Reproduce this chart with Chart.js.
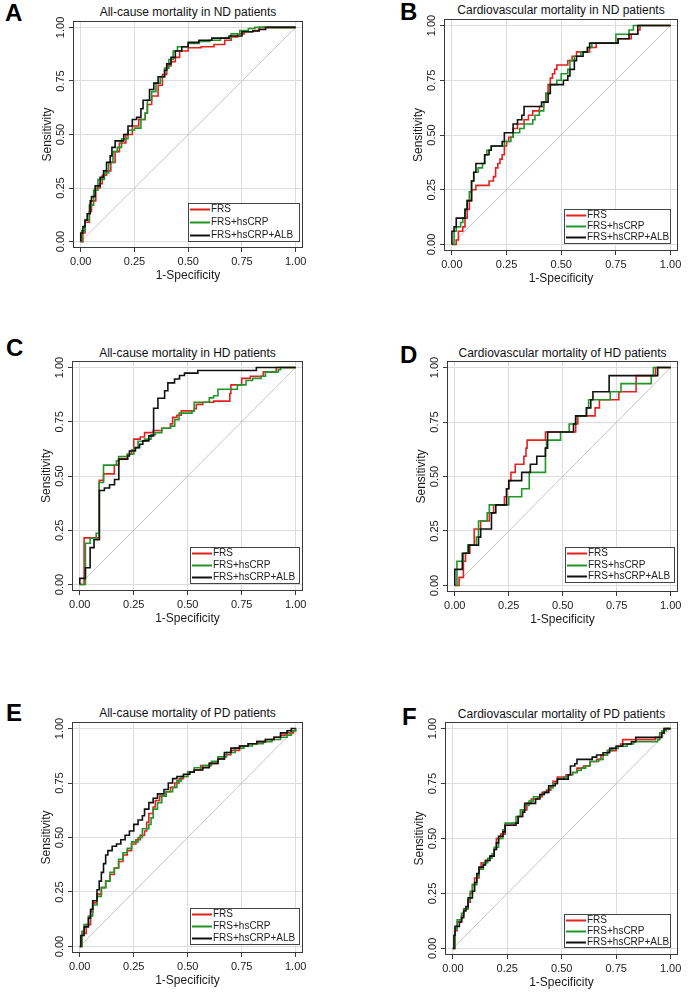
<!DOCTYPE html>
<html>
<head>
<meta charset="utf-8">
<script src="https://cdn.jsdelivr.net/npm/chart.js@4.4.1/dist/chart.umd.min.js"></script>
<style>
  html, body { margin: 0; padding: 0; background: #fff; }
  body { position: relative; width: 691px; height: 992px; overflow: hidden; font-family: "Liberation Sans", Arial, sans-serif; }
  canvas { position: absolute; }
  .title { position: absolute; font-size: 12px; line-height: 14px; color: #111; white-space: nowrap; transform: translateX(-50%); }
  .letter { position: absolute; font-size: 24px; line-height: 24px; font-weight: bold; color: #000; }
</style>
</head>
<body>
<script>
  // axis ticks shared by every panel
  const TICK_VALUES = [0, 0.25, 0.5, 0.75, 1];
  const TICK_LABELS = ['0.00', '0.25', '0.50', '0.75', '1.00'];
  const SERIES_NAMES = ['FRS', 'FRS+hsCRP', 'FRS+hsCRP+ALB'];
  const DIAGONAL = [[0, 0], [1, 1]];

  // ROC curves, [1-specificity, sensitivity]
  const A_FRS = [[0,0],[0.01,0.04],[0.02,0.09],[0.04,0.14],[0.05,0.19],[0.07,0.25],[0.09,0.27],[0.10,0.31],[0.12,0.33],[0.14,0.37],[0.16,0.42],[0.18,0.46],[0.21,0.50],[0.24,0.54],[0.27,0.57],[0.30,0.60],[0.31,0.64],[0.33,0.68],[0.36,0.73],[0.38,0.78],[0.40,0.82],[0.42,0.84],[0.44,0.86],[0.46,0.89],[0.50,0.905],[0.56,0.91],[0.62,0.92],[0.67,0.94],[0.70,0.955],[0.73,0.97],[0.76,0.98],[0.80,0.985],[0.83,1],[1,1]];
  const A_CRP = [[0,0],[0.005,0.05],[0.02,0.10],[0.04,0.17],[0.06,0.24],[0.08,0.29],[0.11,0.32],[0.13,0.37],[0.15,0.42],[0.17,0.44],[0.19,0.48],[0.22,0.52],[0.25,0.53],[0.28,0.57],[0.30,0.60],[0.31,0.66],[0.33,0.70],[0.35,0.74],[0.37,0.77],[0.39,0.81],[0.41,0.85],[0.43,0.89],[0.45,0.91],[0.50,0.925],[0.55,0.935],[0.60,0.94],[0.65,0.95],[0.70,0.97],[0.74,0.985],[0.78,0.995],[0.81,1],[1,1]];
  const A_ALB = [[0,0],[0,0.04],[0.01,0.07],[0.02,0.10],[0.03,0.13],[0.044,0.19],[0.05,0.21],[0.067,0.26],[0.09,0.30],[0.106,0.33],[0.12,0.37],[0.137,0.40],[0.145,0.44],[0.16,0.47],[0.20,0.50],[0.22,0.54],[0.24,0.57],[0.26,0.58],[0.28,0.62],[0.29,0.66],[0.32,0.71],[0.34,0.74],[0.36,0.77],[0.39,0.80],[0.40,0.83],[0.42,0.86],[0.44,0.89],[0.47,0.91],[0.50,0.93],[0.55,0.94],[0.61,0.95],[0.69,0.96],[0.75,0.98],[0.80,0.983],[0.83,0.99],[0.86,1],[1,1]];

  const B_FRS = [[0,0],[0.02,0.02],[0.03,0.06],[0.05,0.08],[0.06,0.12],[0.07,0.16],[0.08,0.20],[0.09,0.25],[0.11,0.27],[0.17,0.29],[0.19,0.31],[0.20,0.35],[0.21,0.37],[0.22,0.39],[0.23,0.41],[0.24,0.45],[0.25,0.47],[0.26,0.49],[0.28,0.53],[0.30,0.55],[0.33,0.57],[0.35,0.59],[0.37,0.61],[0.40,0.63],[0.42,0.65],[0.43,0.69],[0.44,0.73],[0.45,0.76],[0.46,0.78],[0.47,0.80],[0.48,0.82],[0.52,0.82],[0.53,0.84],[0.55,0.86],[0.57,0.88],[0.62,0.88],[0.63,0.90],[0.66,0.92],[0.75,0.92],[0.76,0.94],[0.82,0.96],[0.85,0.98],[0.86,1],[1,1]];
  const B_CRP = [[0,0],[0.01,0.06],[0.02,0.08],[0.04,0.10],[0.05,0.12],[0.06,0.16],[0.07,0.20],[0.08,0.24],[0.09,0.29],[0.10,0.33],[0.12,0.35],[0.14,0.37],[0.15,0.41],[0.16,0.43],[0.18,0.45],[0.22,0.45],[0.24,0.47],[0.27,0.49],[0.28,0.51],[0.31,0.53],[0.33,0.55],[0.37,0.57],[0.38,0.59],[0.40,0.61],[0.42,0.65],[0.43,0.69],[0.45,0.73],[0.48,0.75],[0.50,0.78],[0.53,0.80],[0.54,0.84],[0.56,0.86],[0.59,0.88],[0.62,0.90],[0.64,0.92],[0.73,0.92],[0.75,0.96],[0.80,0.96],[0.81,0.98],[0.83,1],[1,1]];
  const B_ALB = [[0,0],[0,0.06],[0.01,0.08],[0.02,0.12],[0.05,0.12],[0.06,0.16],[0.07,0.20],[0.09,0.24],[0.09,0.29],[0.10,0.33],[0.11,0.37],[0.14,0.37],[0.15,0.41],[0.17,0.43],[0.18,0.45],[0.22,0.45],[0.23,0.47],[0.24,0.51],[0.28,0.51],[0.28,0.55],[0.30,0.57],[0.32,0.59],[0.33,0.63],[0.40,0.63],[0.41,0.65],[0.44,0.69],[0.45,0.73],[0.50,0.73],[0.51,0.75],[0.53,0.77],[0.54,0.80],[0.56,0.84],[0.57,0.86],[0.60,0.88],[0.62,0.90],[0.63,0.92],[0.75,0.92],[0.76,0.94],[0.80,0.94],[0.81,0.96],[0.84,0.96],[0.85,1],[1,1]];

  const C_FRS = [[0,0],[0.02,0.215],[0.09,0.48],[0.11,0.51],[0.16,0.55],[0.18,0.58],[0.22,0.60],[0.24,0.62],[0.25,0.67],[0.28,0.68],[0.30,0.70],[0.34,0.71],[0.38,0.72],[0.42,0.74],[0.43,0.77],[0.45,0.78],[0.47,0.80],[0.53,0.81],[0.54,0.83],[0.57,0.84],[0.62,0.845],[0.695,0.88],[0.70,0.92],[0.75,0.95],[0.79,0.96],[0.85,0.98],[0.91,1],[1,1]];
  const C_CRP = [[0,0],[0.026,0.19],[0.048,0.213],[0.076,0.236],[0.09,0.47],[0.11,0.55],[0.17,0.57],[0.18,0.59],[0.22,0.60],[0.25,0.63],[0.27,0.66],[0.30,0.67],[0.33,0.69],[0.35,0.70],[0.38,0.72],[0.42,0.73],[0.44,0.76],[0.46,0.79],[0.52,0.80],[0.53,0.84],[0.58,0.84],[0.60,0.86],[0.62,0.87],[0.64,0.90],[0.72,0.90],[0.73,0.92],[0.77,0.94],[0.80,0.95],[0.84,0.96],[0.86,0.98],[0.92,0.99],[0.93,1],[1,1]];
  const C_ALB = [[0,0],[0,0.028],[0.026,0.077],[0.048,0.17],[0.066,0.206],[0.091,0.433],[0.114,0.445],[0.138,0.46],[0.161,0.484],[0.181,0.577],[0.222,0.592],[0.23,0.615],[0.258,0.631],[0.277,0.646],[0.292,0.662],[0.32,0.685],[0.342,0.812],[0.362,0.858],[0.393,0.893],[0.408,0.929],[0.439,0.947],[0.462,0.963],[0.485,0.974],[0.547,0.986],[0.818,1],[1,1]];

  const D_FRS = [[0,0],[0.02,0.037],[0.04,0.111],[0.05,0.148],[0.07,0.185],[0.09,0.259],[0.12,0.296],[0.16,0.333],[0.18,0.37],[0.23,0.407],[0.24,0.444],[0.25,0.481],[0.26,0.519],[0.28,0.556],[0.32,0.593],[0.33,0.63],[0.335,0.667],[0.42,0.704],[0.56,0.741],[0.57,0.778],[0.65,0.815],[0.67,0.852],[0.76,0.889],[0.84,0.963],[0.93,1],[1,1]];
  const D_CRP = [[0,0],[0.01,0.111],[0.04,0.148],[0.06,0.185],[0.10,0.222],[0.11,0.296],[0.15,0.333],[0.16,0.37],[0.25,0.407],[0.31,0.444],[0.345,0.519],[0.42,0.63],[0.425,0.667],[0.49,0.704],[0.53,0.741],[0.56,0.778],[0.61,0.815],[0.62,0.852],[0.72,0.889],[0.77,0.926],[0.91,0.963],[0.92,1],[1,1]];
  const D_ALB = [[0,0],[0,0.074],[0.035,0.148],[0.065,0.185],[0.11,0.222],[0.12,0.259],[0.17,0.333],[0.19,0.37],[0.24,0.444],[0.25,0.481],[0.31,0.519],[0.35,0.556],[0.38,0.593],[0.42,0.63],[0.43,0.704],[0.55,0.741],[0.56,0.778],[0.61,0.815],[0.63,0.852],[0.64,0.889],[0.715,0.963],[0.94,1],[1,1]];

  const E_FRS = [[0,0],[0.01,0.06],[0.03,0.10],[0.05,0.16],[0.06,0.20],[0.08,0.24],[0.10,0.27],[0.12,0.30],[0.14,0.33],[0.16,0.36],[0.18,0.39],[0.20,0.42],[0.22,0.44],[0.24,0.47],[0.26,0.49],[0.28,0.51],[0.30,0.53],[0.31,0.57],[0.32,0.61],[0.34,0.64],[0.35,0.67],[0.37,0.69],[0.40,0.71],[0.42,0.73],[0.44,0.75],[0.46,0.77],[0.48,0.78],[0.50,0.80],[0.53,0.81],[0.56,0.83],[0.60,0.84],[0.64,0.86],[0.67,0.88],[0.70,0.90],[0.74,0.92],[0.78,0.93],[0.82,0.94],[0.86,0.95],[0.90,0.96],[0.93,0.97],[0.96,0.98],[0.99,0.99],[1,1]];
  const E_CRP = [[0,0],[0.01,0.07],[0.02,0.10],[0.04,0.14],[0.06,0.19],[0.08,0.23],[0.10,0.27],[0.12,0.30],[0.14,0.34],[0.16,0.36],[0.18,0.40],[0.20,0.43],[0.22,0.45],[0.24,0.48],[0.27,0.50],[0.29,0.54],[0.32,0.56],[0.33,0.59],[0.34,0.63],[0.36,0.66],[0.38,0.69],[0.40,0.71],[0.43,0.73],[0.45,0.76],[0.47,0.78],[0.50,0.80],[0.53,0.82],[0.57,0.83],[0.61,0.85],[0.64,0.87],[0.68,0.89],[0.72,0.91],[0.76,0.92],[0.80,0.93],[0.85,0.94],[0.89,0.95],[0.93,0.96],[0.96,0.97],[0.98,0.99],[1,1]];
  const E_ALB = [[0,0],[0.005,0.05],[0.02,0.09],[0.04,0.13],[0.05,0.17],[0.06,0.21],[0.08,0.26],[0.09,0.30],[0.10,0.34],[0.11,0.38],[0.12,0.42],[0.13,0.44],[0.15,0.46],[0.17,0.47],[0.19,0.49],[0.21,0.51],[0.23,0.53],[0.25,0.56],[0.27,0.58],[0.29,0.60],[0.30,0.63],[0.32,0.66],[0.34,0.68],[0.36,0.70],[0.39,0.72],[0.41,0.75],[0.43,0.77],[0.45,0.78],[0.48,0.79],[0.51,0.80],[0.53,0.81],[0.57,0.82],[0.60,0.84],[0.64,0.86],[0.67,0.89],[0.70,0.91],[0.74,0.92],[0.78,0.93],[0.82,0.94],[0.86,0.95],[0.90,0.96],[0.93,0.98],[0.96,0.99],[0.98,1],[1,1]];

  const F_FRS = [[0,0],[0.01,0.08],[0.02,0.12],[0.04,0.15],[0.05,0.18],[0.07,0.21],[0.08,0.25],[0.09,0.29],[0.10,0.32],[0.12,0.36],[0.13,0.39],[0.15,0.40],[0.17,0.42],[0.19,0.45],[0.20,0.50],[0.22,0.52],[0.24,0.56],[0.28,0.57],[0.30,0.60],[0.32,0.63],[0.34,0.66],[0.36,0.68],[0.39,0.69],[0.41,0.71],[0.43,0.72],[0.45,0.74],[0.46,0.76],[0.48,0.78],[0.52,0.79],[0.55,0.80],[0.57,0.82],[0.60,0.83],[0.63,0.85],[0.66,0.86],[0.68,0.88],[0.71,0.90],[0.75,0.92],[0.77,0.93],[0.78,0.95],[0.91,0.95],[0.93,0.96],[0.95,0.98],[0.97,1],[1,1]];
  const F_CRP = [[0,0],[0.01,0.09],[0.02,0.13],[0.04,0.16],[0.05,0.18],[0.07,0.22],[0.08,0.26],[0.09,0.29],[0.11,0.33],[0.12,0.36],[0.14,0.39],[0.16,0.41],[0.18,0.43],[0.19,0.46],[0.21,0.50],[0.23,0.54],[0.24,0.57],[0.28,0.57],[0.29,0.60],[0.31,0.63],[0.33,0.65],[0.35,0.67],[0.37,0.69],[0.40,0.70],[0.42,0.71],[0.44,0.73],[0.46,0.75],[0.48,0.77],[0.51,0.78],[0.53,0.79],[0.55,0.80],[0.57,0.81],[0.59,0.82],[0.61,0.83],[0.63,0.85],[0.67,0.86],[0.69,0.88],[0.71,0.90],[0.73,0.91],[0.76,0.92],[0.80,0.93],[0.83,0.94],[0.94,0.95],[0.95,0.98],[0.96,0.99],[0.98,1],[1,1]];
  const F_ALB = [[0,0],[0.005,0.06],[0.01,0.10],[0.03,0.12],[0.04,0.14],[0.05,0.17],[0.06,0.19],[0.07,0.23],[0.09,0.26],[0.10,0.30],[0.11,0.34],[0.12,0.37],[0.14,0.38],[0.15,0.40],[0.17,0.42],[0.19,0.45],[0.20,0.48],[0.21,0.51],[0.23,0.53],[0.24,0.56],[0.29,0.57],[0.30,0.60],[0.32,0.62],[0.33,0.66],[0.36,0.66],[0.38,0.68],[0.40,0.70],[0.42,0.71],[0.44,0.74],[0.47,0.75],[0.48,0.77],[0.53,0.79],[0.54,0.83],[0.56,0.84],[0.57,0.86],[0.64,0.87],[0.66,0.88],[0.69,0.89],[0.72,0.91],[0.75,0.92],[0.78,0.93],[0.82,0.94],[0.84,0.96],[0.94,0.96],[0.96,0.98],[0.97,1],[1,1]];

  const COLORS = ['#e3221f', '#22952a', '#111111'];
  const FONT = '"Liberation Sans", Arial, sans-serif';
  const Y_AXIS_W = 33;
  const X_AXIS_H = 35;

  // cell = canvas box, frame = plot box (page px), legend = [w, h, gapRight, gapBottom]
  const PANELS = [
    { letter: 'A', title: 'All-cause mortality in ND patients', curves: [A_FRS, A_CRP, A_ALB],
      cell: [0, 0, 345, 300], frame: [73, 21, 303, 248], titleY: 11.7, letterPos: [5, 1.4], legend: [111, 38, 4, 7] },
    { letter: 'B', title: 'Cardiovascular mortality in ND patients', curves: [B_FRS, B_CRP, B_ALB],
      cell: [345, 0, 346, 300], frame: [444, 19, 678, 251], titleY: 10, letterPos: [400, -0.3], legend: [106, 34, 8, 8] },
    { letter: 'C', title: 'All-cause mortality in HD patients', curves: [C_FRS, C_CRP, C_ALB],
      cell: [0, 320, 345, 320], frame: [72, 361, 303, 591], titleY: 352.7, letterPos: [6, 336.4], legend: [109, 36, 4, 8] },
    { letter: 'D', title: 'Cardiovascular mortality of HD patients', curves: [D_FRS, D_CRP, D_ALB],
      cell: [345, 320, 346, 320], frame: [447, 361, 678, 592], titleY: 352.7, letterPos: [400, 343], legend: [109, 35, 4, 10] },
    { letter: 'E', title: 'All-cause mortality of PD patients', curves: [E_FRS, E_CRP, E_ALB],
      cell: [0, 680, 345, 312], frame: [72, 722, 303, 953], titleY: 712.7, letterPos: [6, 701.4], legend: [109, 36, 4, 9] },
    { letter: 'F', title: 'Cardiovascular mortality of PD patients', curves: [F_FRS, F_CRP, F_ALB],
      cell: [345, 680, 346, 312], frame: [445, 722, 678, 955], titleY: 714, letterPos: [402, 704.7], legend: [106, 33, 8, 8] }
  ];

  const framePlugin = {
    id: 'plotFrame',
    afterDraw(chart) {
      const { ctx, chartArea: a } = chart;
      ctx.save();
      ctx.strokeStyle = '#3a3a3a';
      ctx.lineWidth = 1;
      ctx.strokeRect(Math.round(a.left) + 0.5, Math.round(a.top) + 0.5,
        Math.round(a.right - a.left) - 1, Math.round(a.bottom - a.top) - 1);
      ctx.restore();
    }
  };

  const rocLegend = {
    id: 'rocLegend',
    afterDraw(chart, args, opts) {
      const { ctx, chartArea: a } = chart;
      const [w, h, gapR, gapB] = opts.box;
      const x = Math.round(a.right - gapR - w);
      const y = Math.round(a.bottom - gapB - h);
      ctx.save();
      ctx.fillStyle = '#fff';
      ctx.fillRect(x, y, w, h);
      ctx.strokeStyle = '#444';
      ctx.lineWidth = 1;
      ctx.strokeRect(x + 0.5, y + 0.5, w, h);
      ctx.font = '10px ' + FONT;
      ctx.textBaseline = 'middle';
      SERIES_NAMES.forEach((name, i) => {
        const ly = Math.round(y + h * (i + 0.5) / 3) + 0.5;
        ctx.strokeStyle = COLORS[i];
        ctx.lineWidth = 2;
        ctx.beginPath();
        ctx.moveTo(x + 2, ly);
        ctx.lineTo(x + 22, ly);
        ctx.stroke();
        ctx.fillStyle = '#222';
        ctx.fillText(name, x + 23, ly);
      });
      ctx.restore();
    }
  };

  function setTicks(axis) {
    axis.ticks = TICK_VALUES.map((value) => ({ value }));
  }

  function axisOptions(min, max, title, isY) {
    return {
      type: 'linear',
      min,
      max,
      afterBuildTicks: setTicks,
      afterFit: (s) => { if (isY) s.width = Y_AXIS_W; else s.height = X_AXIS_H; },
      border: { display: false },
      grid: { color: '#dddddd', lineWidth: 1, tickColor: '#3a3a3a', tickLength: 4 },
      ticks: {
        autoSkip: false,
        callback: (v, i) => TICK_LABELS[i],
        color: '#1a1a1a',
        font: { family: FONT, size: 11 },
        padding: isY ? -3 : 3,
        minRotation: isY ? 90 : 0,
        maxRotation: isY ? 90 : 0,
        crossAlign: isY ? 'center' : 'near'
      },
      title: { display: true, text: title, color: '#1a1a1a', font: { family: FONT, size: 12 }, padding: 0 }
    };
  }

  function buildPanel(p) {
    const [cx, cy, cw, ch] = p.cell;
    const [fl, ft, fr, fb] = p.frame;

    const letter = document.createElement('div');
    letter.className = 'letter';
    letter.textContent = p.letter;
    letter.style.left = p.letterPos[0] + 'px';
    letter.style.top = p.letterPos[1] + 'px';
    document.body.appendChild(letter);

    const title = document.createElement('div');
    title.className = 'title';
    title.textContent = p.title;
    title.style.left = ((fl + fr) / 2) + 'px';
    title.style.top = (p.titleY - 7) + 'px';
    document.body.appendChild(title);

    const canvas = document.createElement('canvas');
    canvas.width = cw;
    canvas.height = ch;
    canvas.style.left = cx + 'px';
    canvas.style.top = cy + 'px';
    document.body.appendChild(canvas);

    const datasets = p.curves.map((curve, i) => ({
      label: SERIES_NAMES[i],
      data: curve.map(([x, y]) => ({ x, y })),
      borderColor: COLORS[i],
      borderWidth: 1.6,
      stepped: true,
      pointRadius: 0,
      fill: false,
      order: 3 - i
    }));
    datasets.push({
      label: 'reference',
      data: DIAGONAL.map(([x, y]) => ({ x, y })),
      borderColor: '#c4c4c4',
      borderWidth: 1,
      pointRadius: 0,
      fill: false,
      order: 10
    });

    new Chart(canvas, {
      type: 'line',
      data: { datasets },
      options: {
        responsive: false,
        animation: false,
        layout: {
          padding: {
            left: fl - cx - Y_AXIS_W,
            top: ft - cy,
            right: cx + cw - fr,
            bottom: cy + ch - fb - X_AXIS_H
          }
        },
        plugins: {
          legend: { display: false },
          tooltip: { enabled: false },
          rocLegend: { box: p.legend }
        },
        scales: {
          x: axisOptions(-0.036, 1.034, '1-Specificity', false),
          y: axisOptions(-0.03, 1.03, 'Sensitivity', true)
        }
      },
      plugins: [framePlugin, rocLegend]
    });
  }

  PANELS.forEach(buildPanel);
</script>
</body>
</html>
